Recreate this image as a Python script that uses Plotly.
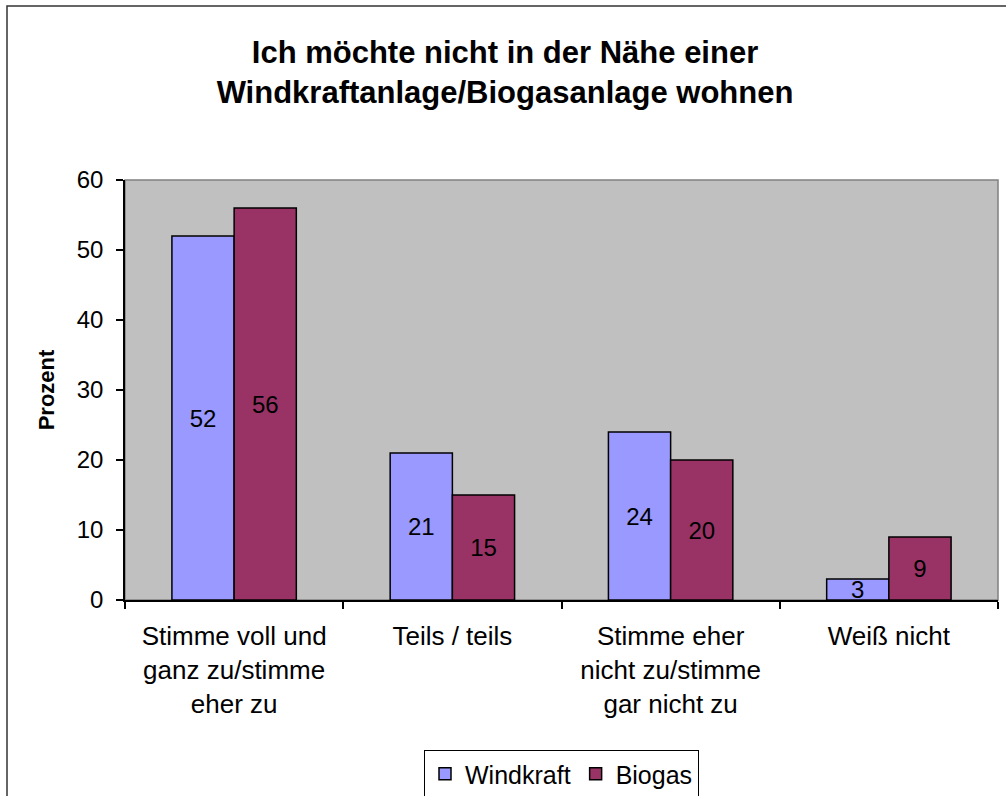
import plotly.graph_objects as go

categories = ["Stimme voll und<br>ganz zu/stimme<br>eher zu", "Teils / teils",
              "Stimme eher<br>nicht zu/stimme<br>gar nicht zu", "Weiß nicht"]
windkraft = [52, 21, 24, 3]
biogas = [56, 15, 20, 9]
series_names = ["Windkraft", "Biogas"]
series_colors = ["#9999FF", "#993366"]
title_text = "Ich möchte nicht in der Nähe einer<br>Windkraftanlage/Biogasanlage wohnen"
y_title = "Prozent"
y_ticks = [0, 10, 20, 30, 40, 50, 60]

FONT = "Liberation Sans, Arial, sans-serif"

W, H = 1006, 796
L, R, T, B = 125, 8, 180, 196
pw, ph = W - L - R, H - T - B

fig = go.Figure()
for name, vals, col in zip(series_names, [windkraft, biogas], series_colors):
    fig.add_trace(go.Bar(
        name=name, x=categories, y=vals,
        marker=dict(color=col, line=dict(color="black", width=1.5)),
        text=[str(v) for v in vals], textposition="inside",
        insidetextanchor="middle", textangle=0, constraintext="none",
        textfont=dict(family=FONT, size=24, color="black"),
    ))


def px_x(p):
    return (p - L) / pw


def px_y(p):
    return (H - B - p) / ph


fig.update_layout(
    width=W, height=H,
    margin=dict(l=L, r=R, t=T, b=B, autoexpand=False),
    paper_bgcolor="white", plot_bgcolor="#C0C0C0",
    font=dict(family=FONT, size=24, color="black"),
    barmode="group", bargap=0.43, bargroupgap=0,
    title=dict(text="<b>" + title_text + "</b>", x=0.502, xanchor="center",
               y=1 - 63 / H, yanchor="middle",
               font=dict(family=FONT, size=31, color="black")),
    legend=dict(orientation="h", x=0.5, xanchor="center", y=px_y(750), yanchor="top",
                bordercolor="black", borderwidth=1, bgcolor="white",
                font=dict(family=FONT, size=25), traceorder="normal",
                itemwidth=30),
    xaxis=dict(type="category", showline=True, linecolor="black", linewidth=1.5,
               ticks="outside", ticklen=7, tickcolor="black", tickwidth=1.5,
               tickson="boundaries", showgrid=False, ticklabelstandoff=12,
               tickfont=dict(family=FONT, size=26)),
    yaxis=dict(range=[0, 60], tickvals=y_ticks, showline=True, linecolor="black",
               linewidth=1.5, ticks="outside", ticklen=7, tickcolor="black",
               tickwidth=1.5, showgrid=False, zeroline=False, ticklabelstandoff=8,
               tickfont=dict(family=FONT, size=24),
               title=dict(text="<b>" + y_title + "</b>", standoff=16,
                          font=dict(family=FONT, size=22))),
    shapes=[
        dict(type="rect", xref="paper", yref="paper", x0=0, x1=1, y0=0, y1=1,
             line=dict(color="#808080", width=1.5), layer="below"),
        dict(type="rect", xref="paper", yref="paper", x0=px_x(7), x1=px_x(1012),
             y0=px_y(805), y1=px_y(6), line=dict(color="#333333", width=1.5),
             layer="above"),
    ],
)

fig.write_html("out.html", config={"displayModeBar": False},
               post_script="document.body.style.margin='0';")
